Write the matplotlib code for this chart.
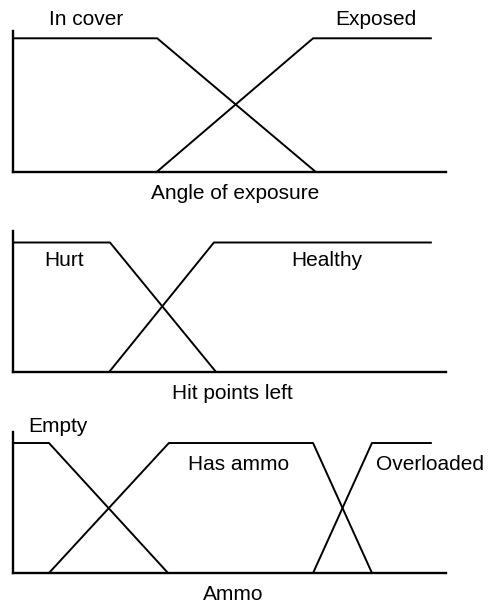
import matplotlib
matplotlib.use("Agg")
import matplotlib.pyplot as plt

# x breakpoints in arbitrary units 0..100
angle_in_cover_x = [0, 0, 33.3, 69.8]
angle_in_cover_y = [1, 1, 1, 0]
angle_exposed_x = [33.3, 69.3, 96.5]
angle_exposed_y = [0, 1, 1]

hp_hurt_x = [0, 22.4, 46.9]
hp_hurt_y = [1, 1, 0]
hp_healthy_x = [22.2, 46.4, 96.5]
hp_healthy_y = [0, 1, 1]

ammo_empty_x = [0, 8.3, 35.8]
ammo_empty_y = [1, 1, 0]
ammo_has_x = [8.3, 36.0, 69.3, 82.9]
ammo_has_y = [0, 1, 1, 0]
ammo_over_x = [69.3, 82.9, 96.5]
ammo_over_y = [0, 1, 1]

titles = ["Angle of exposure", "Hit points left", "Ammo"]

plt.rcParams['font.family'] = ['Liberation Sans', 'DejaVu Sans']

W, H = 489, 603
fig = plt.figure(figsize=(W / 100, H / 100), dpi=100)

def px_axes(top_px, bottom_px):
    left = 13 / W
    width = (446 - 13) / W
    return fig.add_axes([left, 1 - bottom_px / H, width, (bottom_px - top_px) / H])

def style(ax, ymax):
    ax.set_xlim(0, 100)
    ax.set_ylim(0, ymax)
    for s in ["top", "right"]:
        ax.spines[s].set_visible(False)
    for s in ["left", "bottom"]:
        ax.spines[s].set_linewidth(1.7)
        ax.spines[s].set_color("black")
    ax.set_xticks([])
    ax.set_yticks([])
    ax.patch.set_alpha(0)

lw = 1.4
fs = 15

# Panel 1
ax1 = px_axes(31, 171.5)
style(ax1, 1 / ((171.5 - 38.3) / (171.5 - 31)))
ax1.plot(angle_in_cover_x, angle_in_cover_y, color="black", lw=lw)
ax1.plot(angle_exposed_x, angle_exposed_y, color="black", lw=lw)
ax1.text(0.168, 1.08, "In cover", transform=ax1.transAxes, ha="center", va="center", fontsize=fs)
ax1.text(0.838, 1.08, "Exposed", transform=ax1.transAxes, ha="center", va="center", fontsize=fs)
ax1.text(0.513, -0.155, titles[0], transform=ax1.transAxes, ha="center", va="center", fontsize=fs)

# Panel 2
ax2 = px_axes(231, 372)
style(ax2, 1 / ((372 - 242.5) / (372 - 231)))
ax2.plot(hp_hurt_x, hp_hurt_y, color="black", lw=lw)
ax2.plot(hp_healthy_x, hp_healthy_y, color="black", lw=lw)
ax2.text(0.118, 0.79, "Hurt", transform=ax2.transAxes, ha="center", va="center", fontsize=fs)
ax2.text(0.725, 0.79, "Healthy", transform=ax2.transAxes, ha="center", va="center", fontsize=fs)
ax2.text(0.506, -0.15, titles[1], transform=ax2.transAxes, ha="center", va="center", fontsize=fs)

# Panel 3
ax3 = px_axes(432, 573)
style(ax3, 1 / ((573 - 443) / (573 - 432)))
ax3.plot(ammo_empty_x, ammo_empty_y, color="black", lw=lw)
ax3.plot(ammo_has_x, ammo_has_y, color="black", lw=lw)
ax3.plot(ammo_over_x, ammo_over_y, color="black", lw=lw)
ax3.text(0.104, 1.04, "Empty", transform=ax3.transAxes, ha="center", va="center", fontsize=fs)
ax3.text(0.52, 0.77, "Has ammo", transform=ax3.transAxes, ha="center", va="center", fontsize=fs)
ax3.text(0.963, 0.77, "Overloaded", transform=ax3.transAxes, ha="center", va="center", fontsize=fs, clip_on=False)
ax3.text(0.508, -0.155, titles[2], transform=ax3.transAxes, ha="center", va="center", fontsize=fs)

fig.savefig("out.png", dpi=100)
